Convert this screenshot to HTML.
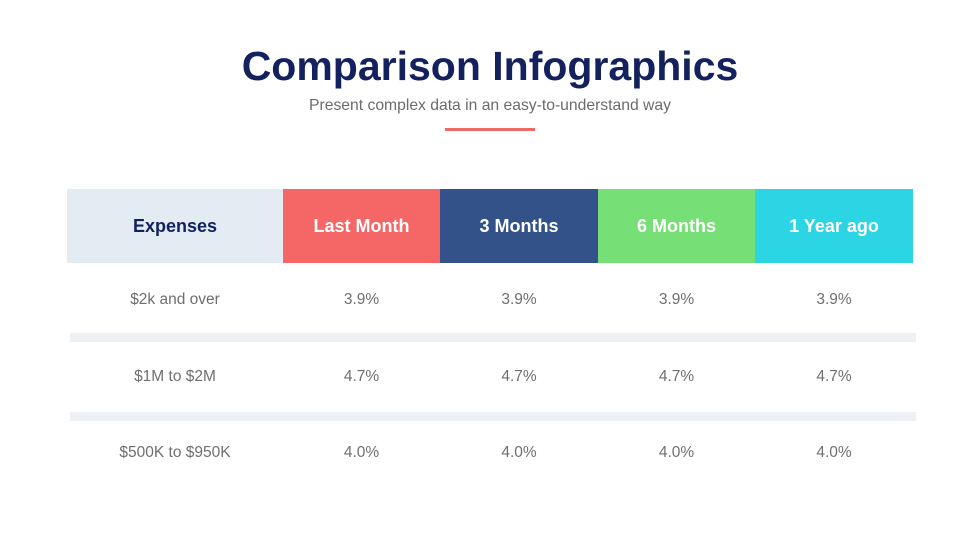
<!DOCTYPE html>
<html><head><style>
body{margin:0;width:980px;height:551px;background:#fff;font-family:"Liberation Sans",sans-serif;position:relative;overflow:hidden}
.a{position:absolute}
h1{position:absolute;top:43px;left:0;width:980px;margin:0;text-align:center;font-size:41px;font-weight:bold;color:#13215e;letter-spacing:0}
.sub{top:97px;left:0;width:980px;text-align:center;font-size:15.7px;color:#6b6b6b}
.h{top:189px;height:74px;line-height:74px;text-align:center;font-size:18px;font-weight:bold;color:#fff}
.c{text-align:center;font-size:15.5px;color:#6f6f6f;height:20px;line-height:20px}
.sep{left:70px;width:846px;height:9px;background:#edf1f6}
</style></head><body>
<h1>Comparison Infographics</h1>
<div class="a sub">Present complex data in an easy-to-understand way</div>
<div class="a" style="left:445px;top:128px;width:90px;height:3px;background:#ef6a64"></div>
<div class="a h" style="left:67px;width:216px;background:#e3ebf3;color:#13215e">Expenses</div>
<div class="a h" style="left:283px;width:157px;background:#f56666">Last Month</div>
<div class="a h" style="left:440px;width:158px;background:#33528a">3 Months</div>
<div class="a h" style="left:598px;width:157px;background:#76df76">6 Months</div>
<div class="a h" style="left:755px;width:158px;background:#2bd5e3">1 Year ago</div>
<div class="a sep" style="top:333px"></div>
<div class="a sep" style="top:412px"></div>

<div class="a c" style="top:290px;left:67px;width:216px">$2k and over</div>
<div class="a c" style="top:290px;left:283px;width:157px">3.9%</div>
<div class="a c" style="top:290px;left:440px;width:158px">3.9%</div>
<div class="a c" style="top:290px;left:598px;width:157px">3.9%</div>
<div class="a c" style="top:290px;left:755px;width:158px">3.9%</div>

<div class="a c" style="top:367px;left:67px;width:216px">$1M to $2M</div>
<div class="a c" style="top:367px;left:283px;width:157px">4.7%</div>
<div class="a c" style="top:367px;left:440px;width:158px">4.7%</div>
<div class="a c" style="top:367px;left:598px;width:157px">4.7%</div>
<div class="a c" style="top:367px;left:755px;width:158px">4.7%</div>

<div class="a c" style="top:443px;left:67px;width:216px">$500K to $950K</div>
<div class="a c" style="top:443px;left:283px;width:157px">4.0%</div>
<div class="a c" style="top:443px;left:440px;width:158px">4.0%</div>
<div class="a c" style="top:443px;left:598px;width:157px">4.0%</div>
<div class="a c" style="top:443px;left:755px;width:158px">4.0%</div>
</body></html>
